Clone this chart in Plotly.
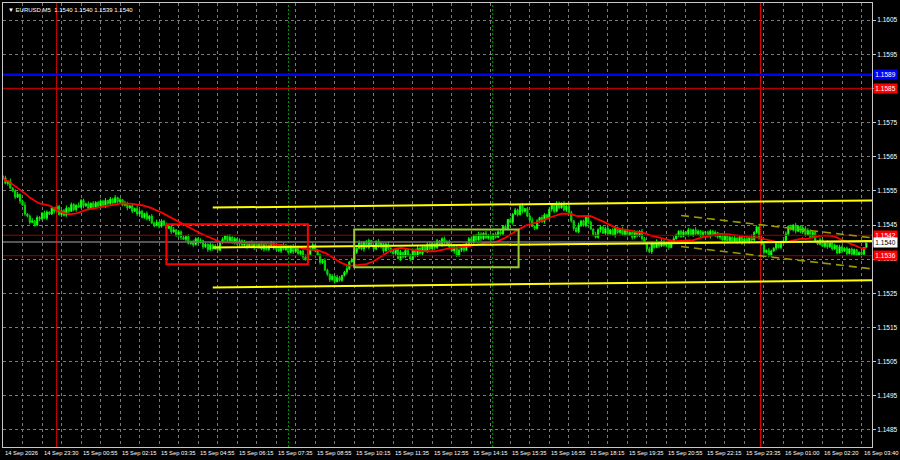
import plotly.graph_objects as go
import pandas as pd

# ---------------- data (prices in points: price = 1.15 + pts/1e5) ----------------
BASE = 1.15
PT = 1e5
open_first = 592
closes_pts = [
    588, 572, 578, 558,
    550, 532, 540, 520,
    508, 482, 476, 458,
    462, 450, 472,
    468, 485, 470, 488,
    482, 500, 490, 505,
    480, 492, 478,
    500, 490, 510, 495, 508,
    502, 522, 506,
    512, 498, 514, 502, 516, 505,
    520, 508, 522, 512,
    526, 515, 530, 518, 524,
    508, 514, 500,
    506, 490, 498, 482, 490,
    472, 484, 468, 476,
    456, 448, 458,
    446, 462, 450,
    440, 446, 430, 436,
    420, 430, 414,
    408, 416, 396, 402,
    392, 410, 398, 404,
    386, 394, 378, 392,
    380, 388, 376,
    398, 408, 418, 404, 414,
    400, 410, 394, 404, 390,
    400, 386, 398, 384, 396, 386,
    394, 380, 392, 378, 390, 396, 382,
    388, 374, 392, 378, 386, 370, 388, 372, 384, 366,
    374, 356, 348, 364,
    380, 392, 374,
    362, 340, 346, 318,
    306, 290, 300, 284, 296,
    288, 302, 312,
    322, 342, 348,
    370, 382, 398, 380,
    400, 384, 404, 388, 380, 402,
    386, 396, 374, 394, 382, 372,
    366, 378, 352, 370, 356, 376,
    362, 350, 376, 360, 382, 366,
    386, 374, 394, 380, 396, 384,
    404, 392, 410, 396, 402, 386,
    374, 386, 360, 376, 388, 376, 396,
    410, 400, 420, 406, 424, 410, 426, 412,
    420, 408, 424, 414, 430, 424,
    446, 440, 466, 458, 482,
    494, 480, 506, 490, 498, 476,
    464, 446, 440, 462,
    472, 460, 480, 470,
    496, 508, 490, 514, 500,
    512, 494, 506, 486,
    462, 440, 430, 450,
    462, 448, 472, 458,
    438, 422, 414, 436,
    444, 426, 440, 424, 436, 420,
    442, 428, 438, 422, 434, 420,
    428, 414, 430, 418, 432, 410,
    398, 380, 372, 396, 384, 400,
    388, 402, 390, 398, 384, 400, 410,
    420, 432, 416, 430, 422, 436,
    420, 436, 424, 432, 418, 428,
    430, 416, 432, 420, 428, 414,
    420, 406, 418, 404, 414, 402,
    412, 400, 414, 398, 410, 402,
    414, 406, 428, 444, 412,
    392, 370, 376, 360, 374,
    382, 396, 384, 398, 404,
    424, 446, 436, 450, 432, 446,
    430, 440, 422, 434, 416, 428,
    404, 394, 406, 388, 400, 386,
    398, 380, 390, 368, 386, 374,
    382, 366, 380, 364, 378, 362,
    370, 364, 384, 400,
]
upper_wick_pts = [
    4,6,2,8,3,5,7,2,4,9, 3,5,8,2,6,4,3,7,5,2, 6,3,9,4,2,5,7,3,6,4, 2,8,4,5,3,7,2,6,4,5,
    5,3,7,2,6,4,8,3,5,2, 7,4,2,6,3,9,4,5,2,6, 3,6,4,8,2,5,3,7,4,3, 8,2,5,4,6,3,7,2,5,4,
    4,7,3,5,2,8,4,6,3,5, 6,2,4,9,3,5,2,7,4,6, 2,5,7,3,6,4,8,2,5,3, 7,4,3,6,2,5,9,3,4,6,
    3,6,2,5,8,3,4,7,2,5, 5,3,7,4,2,6,3,8,5,2, 4,8,3,6,5,2,7,4,3,6, 6,2,5,3,7,4,2,5,8,3,
    2,5,4,7,3,6,2,4,6,5, 7,3,6,2,5,8,4,3,5,2, 4,6,3,5,2,7,3,6,4,8, 3,5,7,2,4,6,5,3,7,4,
    5,2,6,4,8,3,5,2,6,3, 6,4,3,7,2,5,4,8,3,5, 2,7,5,3,6,4,2,6,5,4, 8,3,4,6,2,5,7,3,4,6,
    3,5,2,8,4,6,3,5,7,2, 5,6,3,4,7,2,6,4,3,5, 4,3,7,5,2,6,4,3,8,2, 6,4,2,5,3,7,5,2,4,6,
    2,6,4,3,8,5,3,6,2,4, 5,3,6,2,4,7,3,5,6,3, 7,2,4,6,3,5,2,8,4,5, 3,5,6,2,7,4,3,5,2,6,
    4,7,3,5,2,6,4,3,5,7, 6,3,5,4,2,7,5,3,6,4, 3,5,2,6,4,3,5,2,4,3, 2,3,2,1,3,2,1,1,1,0,
]
lower_wick_pts = [
    5,3,7,2,4,6,3,8,2,5, 4,6,2,5,3,7,4,2,6,3, 3,7,5,2,6,3,4,8,2,5, 6,2,4,7,3,5,2,6,4,3,
    2,5,8,3,4,6,2,5,7,3, 4,7,3,5,2,6,8,3,4,5, 7,3,5,2,6,4,3,7,2,6, 3,5,4,8,2,6,3,4,7,2,
    5,2,6,3,7,4,5,2,8,3, 3,6,4,2,5,7,3,6,2,4, 6,4,3,7,2,5,4,8,3,5, 2,5,7,3,6,2,4,5,3,7,
    4,3,5,6,2,8,3,5,4,2, 6,4,2,5,7,3,6,2,4,5, 3,7,4,2,6,5,3,4,8,2, 5,2,6,4,3,5,7,2,6,4,
    3,6,2,7,4,3,5,6,2,5, 4,2,5,3,6,4,2,7,5,3, 6,5,3,4,2,8,4,3,5,6, 2,4,6,5,3,2,7,4,3,5,
    7,3,4,2,6,5,3,4,2,7, 3,5,2,6,4,3,8,2,5,4, 5,4,6,3,2,7,5,3,4,2, 4,6,3,5,7,2,4,6,3,5,
    6,2,5,3,4,8,2,5,6,3, 2,7,4,6,3,5,3,2,7,4, 5,3,6,2,5,4,7,3,2,6, 3,4,5,7,2,6,3,5,4,2,
    4,6,2,5,3,4,6,2,7,3, 6,3,5,4,7,2,5,3,4,6, 2,5,3,6,4,2,6,5,3,4, 5,2,7,3,5,4,2,6,3,5,
    3,4,6,2,5,7,3,4,2,6, 4,5,2,6,3,4,2,5,6,3, 5,3,4,2,6,3,4,2,3,2, 2,1,2,3,1,2,1,1,1,0,
]
ma_period = 20

time_labels = ["14 Sep 2026", "14 Sep 23:30", "15 Sep 00:55", "15 Sep 02:15", "15 Sep 03:35",
               "15 Sep 04:55", "15 Sep 06:15", "15 Sep 07:35", "15 Sep 08:55", "15 Sep 10:15",
               "15 Sep 11:35", "15 Sep 12:55", "15 Sep 14:15", "15 Sep 15:35", "15 Sep 16:55",
               "15 Sep 18:15", "15 Sep 19:35", "15 Sep 20:55", "15 Sep 22:15", "15 Sep 23:35",
               "16 Sep 01:00", "16 Sep 02:20", "16 Sep 03:40"]
bars_per_label = 16
bars_per_grid = 8
price_ticks = [1.1485, 1.1495, 1.1505, 1.1515, 1.1525, 1.1535, 1.1545, 1.1555,
               1.1565, 1.1575, 1.1585, 1.1595, 1.1605]

blue_level = 1.1589
red_level = 1.1585
dark_red_levels = [1.1542, 1.1536]
bid_level = 1.1540
red_vline_bars = [22, 310.6]
green_vline_bars = [117.1, 200.8]

red_box_bars = [67, 125]
red_box_prices = [1.15335, 1.15452]
green_box_bars = [144, 211.4]
green_box_prices = [1.15326, 1.15437]

channel_bars = [86, 357]
channel_upper = [1.15501, 1.15522]
channel_mid = [1.15384, 1.15403]
channel_lower = [1.15267, 1.15288]

trend_bars = [278, 357]
trend_upper = [1.15478, 1.15412]
trend_lower = [1.15387, 1.15321]

header_text = "EURUSD,M5  1.1540 1.1540 1.1539 1.1540"

# ---------------- build ----------------
N = len(closes_pts)
opens_pts = [open_first] + closes_pts[:-1]
highs_pts = [max(o, c) + u for o, c, u in zip(opens_pts, closes_pts, upper_wick_pts)]
lows_pts = [min(o, c) - l for o, c, l in zip(opens_pts, closes_pts, lower_wick_pts)]
to_p = lambda arr: [BASE + v / PT for v in arr]
xs = list(range(N))
o, h, l, c = to_p(opens_pts), to_p(highs_pts), to_p(lows_pts), to_p(closes_pts)
ma = pd.Series(c).rolling(ma_period, min_periods=1).mean()

FONT = "Liberation Sans, Arial"
FS = 6.5
FS_TIME = 5.8
fig = go.Figure()
fig.add_trace(go.Candlestick(
    x=xs, open=o, high=h, low=l, close=c,
    increasing=dict(line=dict(color="#00ff00", width=1), fillcolor="#c0ffc0"),
    decreasing=dict(line=dict(color="#00e000", width=1), fillcolor="#00b000"),
    whiskerwidth=0, hoverinfo="skip", showlegend=False))
fig.add_trace(go.Scatter(x=xs, y=ma, mode="lines", line=dict(color="#ff0000", width=1.8),
                         hoverinfo="skip", showlegend=False))

shapes = []
for b in red_vline_bars:
    shapes.append(dict(type="line", xref="x", yref="paper", x0=b, x1=b, y0=0, y1=1,
                       line=dict(color="#e00000", width=1)))
for b in green_vline_bars:
    shapes.append(dict(type="line", xref="x", yref="paper", x0=b, x1=b, y0=0, y1=1,
                       line=dict(color="#00a000", width=1, dash="2px,2px")))
shapes.append(dict(type="line", xref="paper", yref="y", x0=0, x1=1, y0=bid_level, y1=bid_level,
                   line=dict(color="#707070", width=1.5)))
for lv in dark_red_levels:
    shapes.append(dict(type="line", xref="paper", yref="y", x0=0, x1=1, y0=lv, y1=lv,
                       line=dict(color="#a00000", width=1)))
shapes.append(dict(type="line", xref="paper", yref="y", x0=0, x1=1, y0=red_level, y1=red_level,
                   line=dict(color="#b00000", width=1.5)))
shapes.append(dict(type="line", xref="paper", yref="y", x0=0, x1=1, y0=blue_level, y1=blue_level,
                   line=dict(color="#0000ff", width=2.5)))
for ys in (channel_upper, channel_mid, channel_lower):
    shapes.append(dict(type="line", xref="x", yref="y", x0=channel_bars[0], x1=channel_bars[1],
                       y0=ys[0], y1=ys[1], line=dict(color="#ffff00", width=2)))
for ys in (trend_upper, trend_lower):
    shapes.append(dict(type="line", xref="x", yref="y", x0=trend_bars[0], x1=trend_bars[1],
                       y0=ys[0], y1=ys[1], line=dict(color="#9a9a00", width=1.6, dash="8px,5px")))
shapes.append(dict(type="rect", xref="x", yref="y", x0=red_box_bars[0], x1=red_box_bars[1],
                   y0=red_box_prices[0], y1=red_box_prices[1], line=dict(color="#ff0000", width=2)))
shapes.append(dict(type="rect", xref="x", yref="y", x0=green_box_bars[0], x1=green_box_bars[1],
                   y0=green_box_prices[0], y1=green_box_prices[1], line=dict(color="#9acd32", width=2)))

annotations = []
for k, t in enumerate(time_labels):
    annotations.append(dict(x=k * bars_per_label, y=0, xref="x", yref="paper", text=t,
                            showarrow=False, xanchor="left", yanchor="top", yshift=-1, xshift=0,
                            font=dict(family=FONT, size=FS_TIME, color="#ffffff")))
for lv, bg, fg in ((blue_level, "#0000ff", "#ffffff"), (red_level, "#ff0000", "#ffffff"),
                   (dark_red_levels[0], "#ff0000", "#ffffff"), (bid_level, "#ffffff", "#000000"),
                   (dark_red_levels[1], "#ff0000", "#ffffff")):
    annotations.append(dict(x=1, y=lv, xref="paper", yref="y", text=f"{lv:.4f}", showarrow=False,
                            xanchor="left", yanchor="middle", xshift=1, bgcolor=bg, borderpad=0,
                            width=23, height=9, font=dict(family=FONT, size=FS, color=fg)))
annotations.append(dict(x=0, y=1, xref="paper", yref="paper", text="▼ " + header_text,
                        showarrow=False, xanchor="left", yanchor="top", xshift=3, yshift=-2,
                        font=dict(family=FONT, size=6, color="#ffffff")))

# tick text for the level fully covered by its price box is left blank
tick_text = ["" if abs(v - red_level) < 1e-9 else f"{v:.4f}" for v in price_ticks]

fig.update_layout(
    width=900, height=460, paper_bgcolor="#000000", plot_bgcolor="#000000",
    margin=dict(l=2, r=25, t=2, b=13), showlegend=False,
    shapes=shapes, annotations=annotations,
    xaxis=dict(range=[0, 356.3], rangeslider=dict(visible=False), showticklabels=False,
               tickvals=list(range(0, 360, bars_per_grid)), ticks="",
               showgrid=True, gridcolor="#7a7a7a", griddash="3px,3px", gridwidth=1,
               zeroline=False, showline=True, linecolor="#c8c8c8", linewidth=1, mirror=True),
    yaxis=dict(range=[1.1480, 1.1610], side="right", tickvals=price_ticks,
               ticktext=tick_text,
               tickfont=dict(family=FONT, size=FS, color="#ffffff"),
               ticks="outside", ticklen=3, tickcolor="#c8c8c8",
               showgrid=True, gridcolor="#7a7a7a", griddash="3px,3px", gridwidth=1,
               zeroline=False, showline=True, linecolor="#c8c8c8", linewidth=1, mirror=True),
)
fig.write_html("out.html", config={"displayModeBar": False},
               post_script="document.body.style.margin='0';document.body.style.background='#000';")
